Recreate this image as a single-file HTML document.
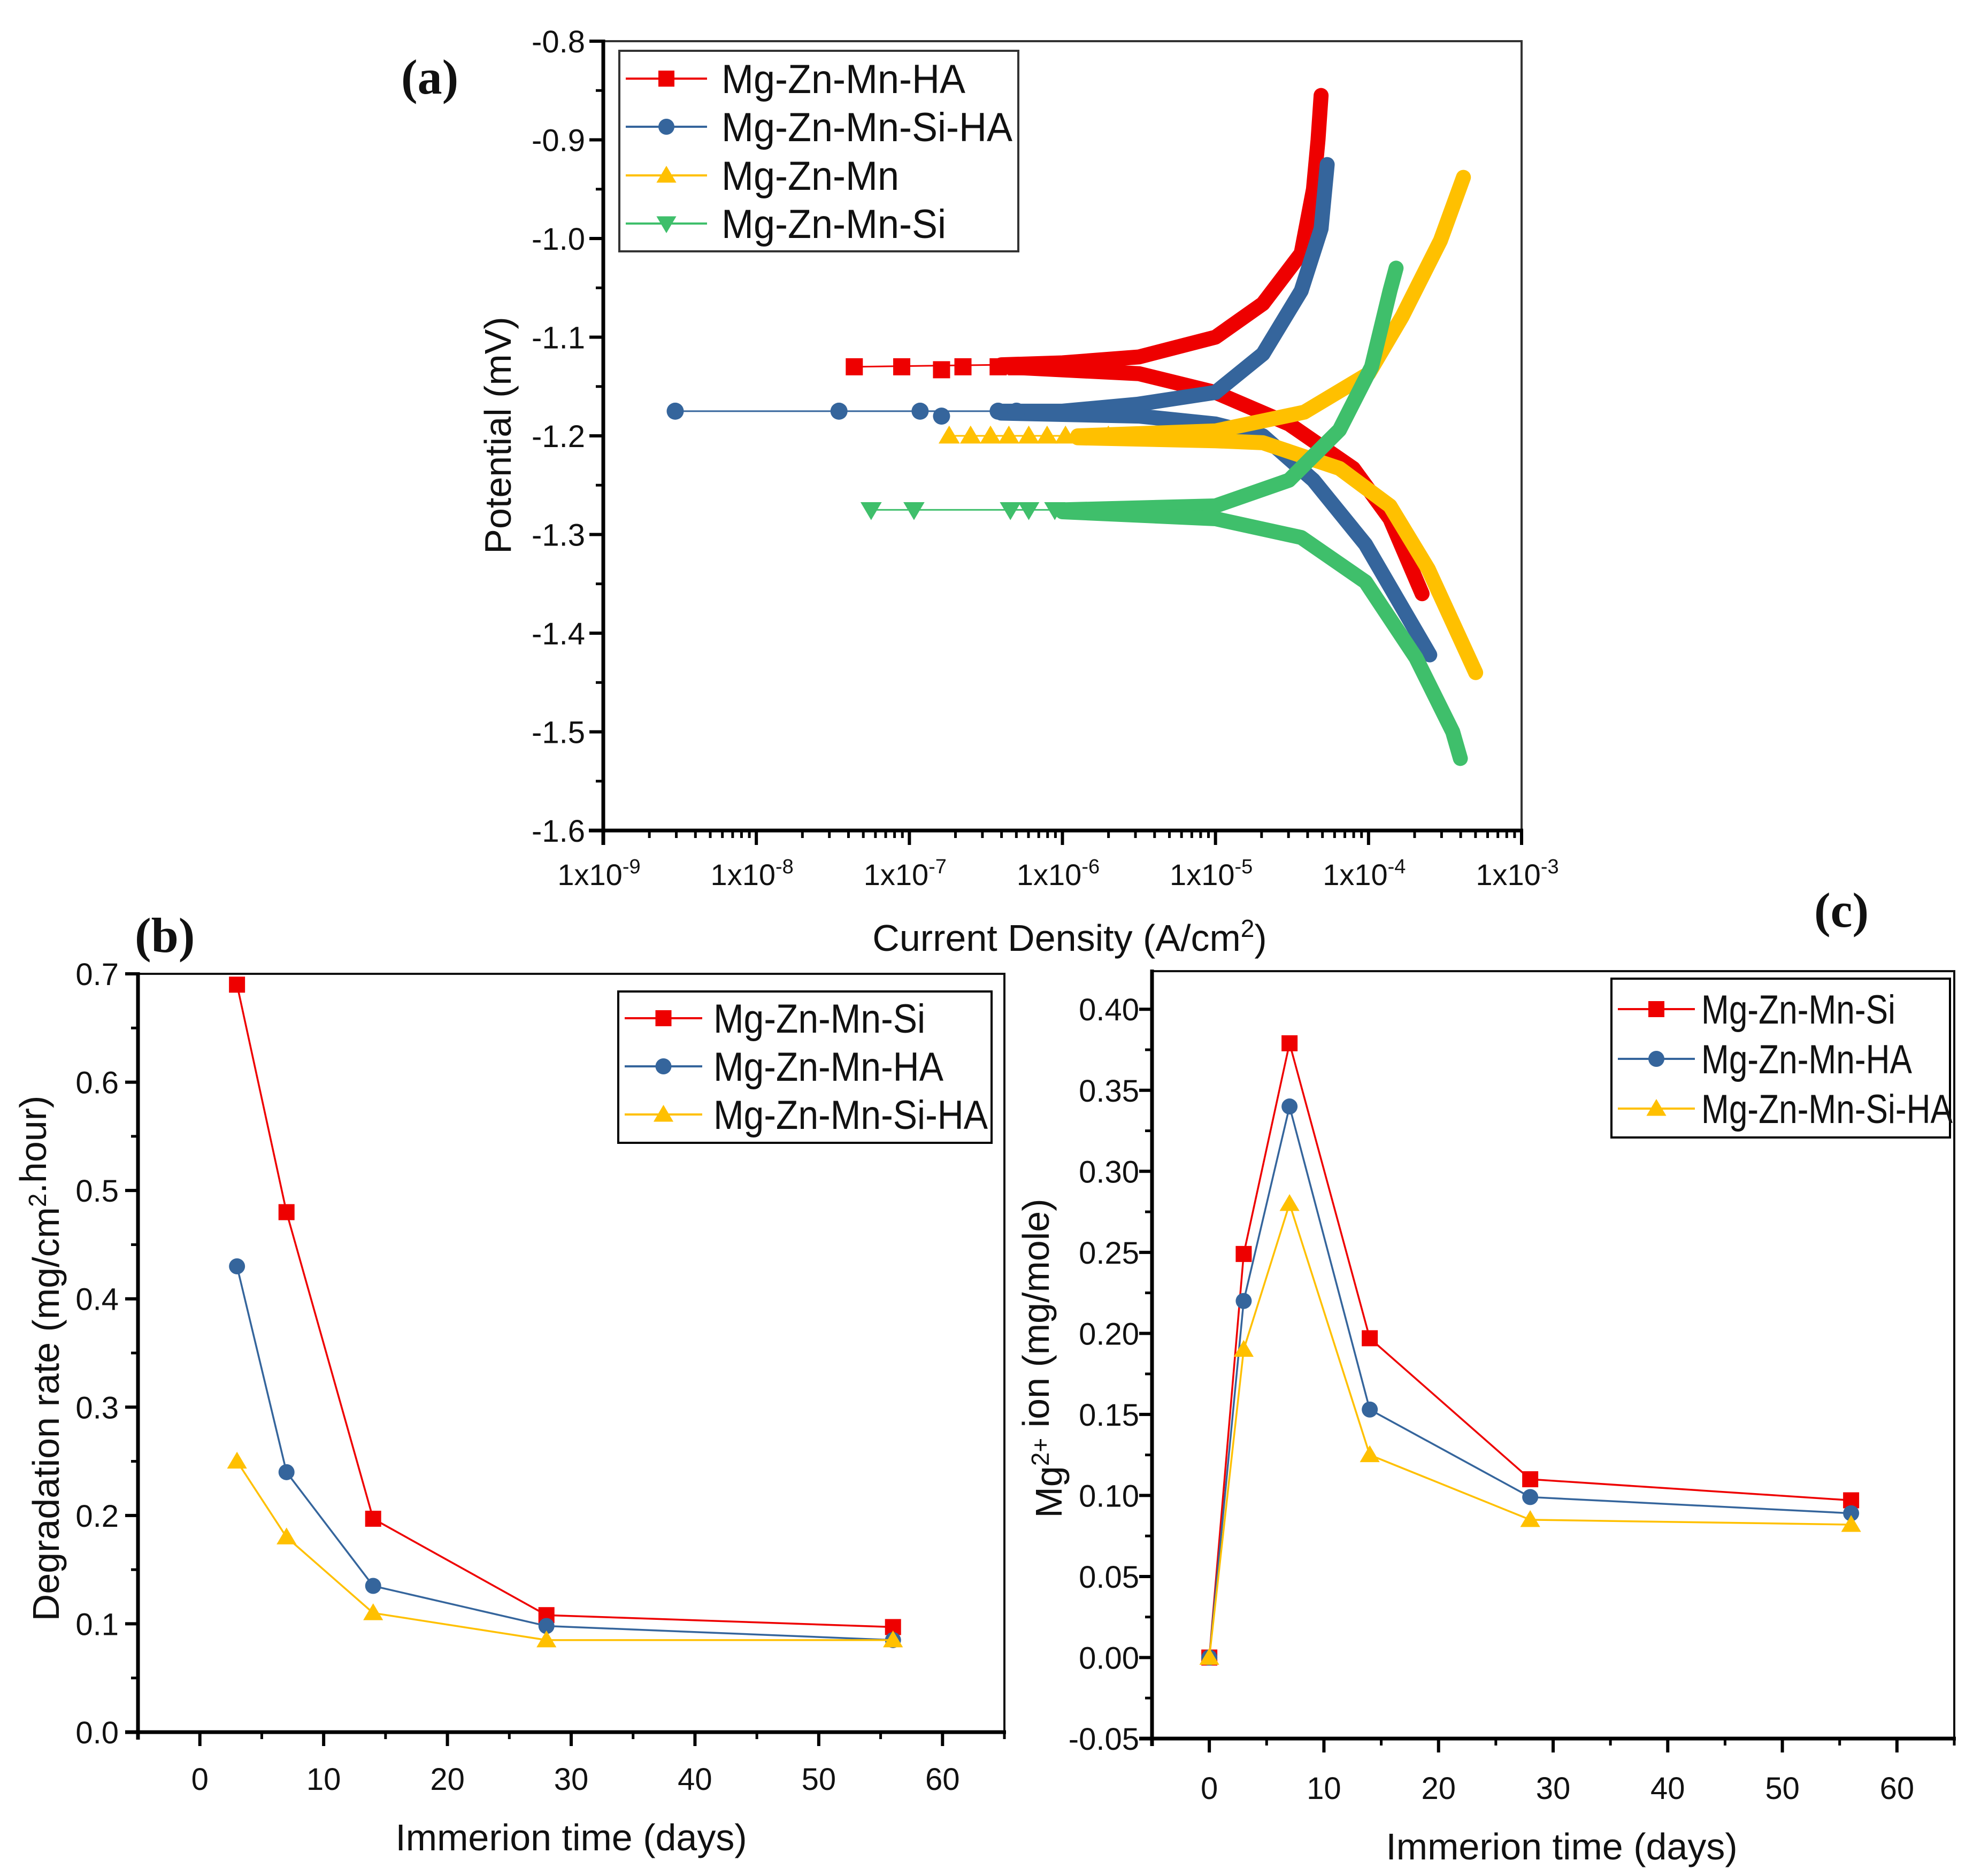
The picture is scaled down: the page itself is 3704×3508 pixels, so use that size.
<!DOCTYPE html>
<html><head><meta charset="utf-8"><style>
html,body{margin:0;padding:0;background:#fff}
svg{display:block}
text{font-family:"Liberation Sans",Arial,sans-serif;fill:#111}
</style></head><body>
<svg id="fig" xmlns="http://www.w3.org/2000/svg" width="3704" height="3508" viewBox="0 0 3704 3508">
<rect width="3704" height="3508" fill="#fff"/>
<g id="pa"></g>
<g id="pb"></g>
<g id="pc"></g>
</svg>
<script>
// ---------- Panel (a) data: log10 current density, potential ----------
const aNames = ["Mg-Zn-Mn-HA","Mg-Zn-Mn-Si-HA","Mg-Zn-Mn","Mg-Zn-Mn-Si"];
const aSparseLog = [[-7.36,-7.05,-6.79,-6.65,-6.42,-6.3],[-8.53,-7.46,-6.93,-6.79,-6.42,-6.3],[-6.74,-6.6,-6.47,-6.35,-6.22,-6.1,-5.98,-5.7],[-7.25,-6.97,-6.34,-6.22,-6.05]];
const aSparseE = [[-1.13,-1.13,-1.133,-1.13,-1.13,-1.13],[-1.175,-1.175,-1.175,-1.18,-1.175,-1.175],[-1.2,-1.2,-1.2,-1.2,-1.2,-1.2,-1.2,-1.2],[-1.275,-1.275,-1.275,-1.275,-1.275]];
const aAnoLog = [[-6.4,-6.0,-5.5,-5.0,-4.69,-4.44,-4.36,-4.33,-4.31],[-6.4,-6.0,-5.51,-5.0,-4.69,-4.44,-4.31,-4.27],[-5.9,-5.0,-4.42,-4.0,-3.78,-3.53,-3.38],[-6.0,-5.0,-4.52,-4.19,-3.98,-3.86,-3.82]];
const aAnoE = [[-1.128,-1.126,-1.12,-1.1,-1.066,-1.015,-0.95,-0.9,-0.855],[-1.175,-1.175,-1.168,-1.156,-1.117,-1.053,-0.99,-0.925],[-1.2,-1.195,-1.176,-1.137,-1.079,-1.002,-0.938],[-1.275,-1.271,-1.245,-1.194,-1.13,-1.053,-1.03]];
const aCatLog = [[-6.4,-5.5,-5.0,-4.52,-4.1,-3.86,-3.65],[-6.4,-5.5,-5.0,-4.69,-4.36,-4.02,-3.6],[-5.9,-5.0,-4.69,-4.19,-3.86,-3.61,-3.3],[-6.0,-5.0,-4.44,-4.02,-3.69,-3.45,-3.4]];
const aCatE = [[-1.13,-1.137,-1.156,-1.188,-1.233,-1.284,-1.36],[-1.177,-1.18,-1.188,-1.2,-1.245,-1.31,-1.422],[-1.202,-1.205,-1.207,-1.233,-1.271,-1.335,-1.44],[-1.277,-1.284,-1.303,-1.348,-1.425,-1.5,-1.527]];
const aYTicks = [-0.8,-0.9,-1.0,-1.1,-1.2,-1.3,-1.4,-1.5,-1.6];
const aYLabels = ["-0.8","-0.9","-1.0","-1.1","-1.2","-1.3","-1.4","-1.5","-1.6"];
const aXExp = [-9,-8,-7,-6,-5,-4,-3];
// ---------- Panel (b) data ----------
const bDays = [3,7,14,28,56];
const bSi = [0.69,0.48,0.197,0.108,0.097];
const bHA = [0.43,0.24,0.135,0.098,0.085];
const bSiHA = [0.25,0.18,0.11,0.085,0.085];
const bYTicks = [0,0.1,0.2,0.3,0.4,0.5,0.6,0.7];
const bYLabels = ["0.0","0.1","0.2","0.3","0.4","0.5","0.6","0.7"];
const bXTicks = [0,10,20,30,40,50,60];
// ---------- Panel (c) data ----------
const cDays = [0,3,7,14,28,56];
const cSi = [0,0.249,0.379,0.197,0.11,0.097];
const cHA = [0,0.22,0.34,0.153,0.099,0.089];
const cSiHA = [0,0.19,0.28,0.125,0.085,0.082];
const cYTicks = [-0.05,0,0.05,0.1,0.15,0.2,0.25,0.3,0.35,0.4];
const cYLabels = ["-0.05","0.00","0.05","0.10","0.15","0.20","0.25","0.30","0.35","0.40"];
const cXTicks = [0,10,20,30,40,50,60];

const RED="#ee0000", BLUE="#35659c", YEL="#ffc000", GRN="#3fbf6b";
const NS="http://www.w3.org/2000/svg";
function mk(parent,tag,attrs,txt){const e=document.createElementNS(NS,tag);for(const k in attrs)e.setAttribute(k,attrs[k]);if(txt!==undefined)e.textContent=txt;parent.appendChild(e);return e;}
function marker(g,shape,x,y,s,col){
  let e;
  if(shape==="sq"){e=mk(g,"rect",{x:x-s/2,y:y-s/2,width:s,height:s,fill:col});}
  else if(shape==="ci"){e=mk(g,"circle",{cx:x,cy:y,r:s/2,fill:col});}
  else if(shape==="up"){e=mk(g,"polygon",{points:`${x},${y-s*0.6} ${x-s*0.62},${y+s*0.45} ${x+s*0.62},${y+s*0.45}`,fill:col});}
  else {e=mk(g,"polygon",{points:`${x},${y+s*0.6} ${x-s*0.62},${y-s*0.45} ${x+s*0.62},${y-s*0.45}`,fill:col});}
  
  
  return e;
}
function fitLegend(texts,target){
  let mx=0;texts.forEach(t=>{mx=Math.max(mx,t.getComputedTextLength());});
  if(!mx)return;const f=target/mx;
  texts.forEach(t=>{const w=t.getComputedTextLength();t.setAttribute('textLength',(w*f).toFixed(1));t.setAttribute('lengthAdjust','spacingAndGlyphs');});
}

// ================= Panel A =================
(function(){
  const g=document.getElementById('pa');
  const L=1128,R=2845,T=77,B=1553;
  const X=v=>L+(v+9)/6*(R-L);
  const Y=v=>T+(-0.8-v)/0.8*(B-T);
  const cols=[RED,BLUE,YEL,GRN], shapes=["sq","ci","up","dn"];
  const frame=mk(g,"path",{d:`M${L},${T} H${R} V${B}`,fill:"none",stroke:"#333",'stroke-width':4});
  
  for(let i=0;i<4;i++){
    const sg=mk(g,"g",{});
    
    
    const sx=aSparseLog[i], se=aSparseE[i];
    mk(sg,"line",{x1:X(sx[0]),y1:Y(se[0]),x2:X(aAnoLog[i][0]),y2:Y(aAnoE[i][0]),stroke:cols[i],'stroke-width':3});
    const pa=aAnoLog[i].map((v,j)=>X(v)+","+Y(aAnoE[i][j])).join(" ");
    const pc=aCatLog[i].map((v,j)=>X(v)+","+Y(aCatE[i][j])).join(" ");
    mk(sg,"polyline",{points:pa,fill:"none",stroke:cols[i],'stroke-width':28,'stroke-linejoin':'round','stroke-linecap':'round'});
    mk(sg,"polyline",{points:pc,fill:"none",stroke:cols[i],'stroke-width':28,'stroke-linejoin':'round','stroke-linecap':'round'});
    for(let j=0;j<sx.length;j++) marker(sg,shapes[i],X(sx[j]),Y(se[j]),32,cols[i]);
  }
  mk(g,"line",{x1:L,y1:T-3,x2:L,y2:B+27,stroke:"#000",'stroke-width':7});
  mk(g,"line",{x1:L-27,y1:B,x2:R+3,y2:B,stroke:"#000",'stroke-width':7});
  aYTicks.forEach((v,i)=>{
    mk(g,"line",{x1:L-26,y1:Y(v),x2:L,y2:Y(v),stroke:"#000",'stroke-width':6});
    if(i<aYTicks.length-1) mk(g,"line",{x1:L-14,y1:Y(v-0.05),x2:L,y2:Y(v-0.05),stroke:"#000",'stroke-width':5});
    const t=mk(g,"text",{x:L-34,y:Y(v)+21,'font-size':58,'text-anchor':'end'},aYLabels[i]);
    
  });
  aXExp.forEach((e,i)=>{
    mk(g,"line",{x1:X(e),y1:B,x2:X(e),y2:B+27,stroke:"#000",'stroke-width':6});
    if(i<aXExp.length-1) for(let k=2;k<10;k++){const xx=X(e+Math.log10(k));mk(g,"line",{x1:xx,y1:B,x2:xx,y2:B+14,stroke:"#000",'stroke-width':5});}
    const t=mk(g,"text",{x:X(e)-8,y:1655,'font-size':56,'text-anchor':'middle'});
    
    t.appendChild(document.createTextNode("1x10"));
    mk(t,"tspan",{dy:-22,'font-size':38},String(e));
  });
  const yt=mk(g,"text",{x:0,y:0,'font-size':70,'text-anchor':'middle',transform:'translate(955,814) rotate(-90)'},"Potential (mV)");
  
  const xt=mk(g,"text",{x:2000,y:1778,'font-size':70,'text-anchor':'middle'});
  
  xt.appendChild(document.createTextNode("Current Density (A/cm"));
  mk(xt,"tspan",{dy:-26,'font-size':46},"2");
  mk(xt,"tspan",{dy:26},")");
  const pl=mk(g,"text",{x:750,y:175,'font-size':92,'font-weight':'bold',style:'font-family:"Liberation Serif",serif'},"(a)");
  
  const lg=mk(g,"g",{});
  
  mk(lg,"rect",{x:1158,y:95,width:746,height:375,fill:"#fff",stroke:"#333",'stroke-width':4});
  const ly=[147,237,328,418];
  const texts=[];
  for(let i=0;i<4;i++){
    mk(lg,"line",{x1:1170,y1:ly[i],x2:1322,y2:ly[i],stroke:cols[i],'stroke-width':4});
    marker(lg,shapes[i],1246,ly[i],30,cols[i]);
    const t=mk(lg,"text",{x:1349,y:ly[i]+27,'font-size':76},aNames[i]);
    
    texts.push(t);
  }
  fitLegend(texts,544);
})();

// ============ Line panels B and C ============
function linePanel(gid,box,xr,yr,yTicks,yLabels,yMinorStep,xTicks,days,series,legend,labels){
  const g=document.getElementById(gid);
  const {L,R,T,B}=box;
  const X=v=>L+(v-xr[0])/(xr[1]-xr[0])*(R-L);
  const Y=v=>B-(v-yr[0])/(yr[1]-yr[0])*(B-T);
  const fr=mk(g,"path",{d:`M${L},${T} H${R} V${B}`,fill:"none",stroke:"#111",'stroke-width':4});
  
  series.forEach(s=>{
    const sg=mk(g,"g",{});
    
    
    mk(sg,"polyline",{points:days.map((d,j)=>X(d)+","+Y(s.vals[j])).join(" "),fill:"none",stroke:s.col,'stroke-width':3.5});
    days.forEach((d,j)=>marker(sg,s.shape,X(d),Y(s.vals[j]),30,s.col));
  });
  mk(g,"line",{x1:L,y1:T-3,x2:L,y2:B+14,stroke:"#000",'stroke-width':7});
  mk(g,"line",{x1:L-24,y1:B,x2:R+3,y2:B,stroke:"#000",'stroke-width':7});
  yTicks.forEach((v,i)=>{
    mk(g,"line",{x1:L-24,y1:Y(v),x2:L,y2:Y(v),stroke:"#000",'stroke-width':6});
    if(i<yTicks.length-1) mk(g,"line",{x1:L-13,y1:Y(v+yMinorStep),x2:L,y2:Y(v+yMinorStep),stroke:"#000",'stroke-width':5});
    const t=mk(g,"text",{x:labels.yLabX,y:Y(v)+21,'font-size':58,'text-anchor':'end'},yLabels[i]);
    
  });
  xTicks.forEach((v,i)=>{
    mk(g,"line",{x1:X(v),y1:B,x2:X(v),y2:B+26,stroke:"#000",'stroke-width':6});
    mk(g,"line",{x1:X(v+5),y1:B,x2:X(v+5),y2:B+13,stroke:"#000",'stroke-width':5});
    const t=mk(g,"text",{x:X(v),y:labels.xLabY,'font-size':58,'text-anchor':'middle'},String(v));
    
  });
  mk(g,"line",{x1:X(xr[0]),y1:B,x2:X(xr[0]),y2:B+13,stroke:"#000",'stroke-width':5});
  const xt=mk(g,"text",{x:labels.xtX,y:labels.xtY,'font-size':70,'text-anchor':'middle'},"Immerion time (days)");
  
  const yt=mk(g,"text",{x:0,y:0,'font-size':70,'text-anchor':'middle',transform:`translate(${labels.ytX},${labels.ytY}) rotate(-90)`});
  
  labels.ytParts.forEach(p=>{ if(p.sup){mk(yt,"tspan",{dy:-24,'font-size':46},p.t);mk(yt,"tspan",{dy:24},"");} else yt.appendChild(document.createTextNode(p.t)); });
  const pl=mk(g,"text",{x:labels.plX,y:labels.plY,'font-size':92,'font-weight':'bold',style:'font-family:"Liberation Serif",serif'},labels.pl);
  
  const lg=mk(g,"g",{});
  
  mk(lg,"rect",{x:legend.x,y:legend.y,width:legend.w,height:legend.h,fill:"#fff",stroke:"#000",'stroke-width':4});
  const texts=[];
  series.forEach((s,i)=>{
    const y=legend.ys[i];
    mk(lg,"line",{x1:legend.lx1,y1:y,x2:legend.lx2,y2:y,stroke:s.col,'stroke-width':4});
    marker(lg,s.shape,(legend.lx1+legend.lx2)/2,y,30,s.col);
    const t=mk(lg,"text",{x:legend.tx,y:y+27,'font-size':76},s.name);
    
    texts.push(t);
  });
  fitLegend(texts,legend.tw);
}
linePanel('pb',{L:258,R:1878,T:1821,B:3239},[-5,65],[0,0.7],bYTicks,bYLabels,0.05,bXTicks,bDays,
 [{name:"Mg-Zn-Mn-Si",vals:bSi,col:RED,shape:"sq"},{name:"Mg-Zn-Mn-HA",vals:bHA,col:BLUE,shape:"ci"},{name:"Mg-Zn-Mn-Si-HA",vals:bSiHA,col:YEL,shape:"up"}],
 {x:1156,y:1854,w:698,h:283,ys:[1904,1994,2084],lx1:1168,lx2:1313,tx:1334,tw:513},
 {yLabX:222,xLabY:3347,xtX:1068,xtY:3460,ytX:110,ytY:2540,ytParts:[{t:"Degradation rate (mg/cm"},{t:"2",sup:true},{t:".hour)"}],plX:252,plY:1780,pl:"(b)"});
linePanel('pc',{L:2154,R:3654,T:1816,B:3251},[-5,65],[-0.05,0.4235],cYTicks,cYLabels,0.025,cXTicks,cDays,
 [{name:"Mg-Zn-Mn-Si",vals:cSi,col:RED,shape:"sq"},{name:"Mg-Zn-Mn-HA",vals:cHA,col:BLUE,shape:"ci"},{name:"Mg-Zn-Mn-Si-HA",vals:cSiHA,col:YEL,shape:"up"}],
 {x:3013,y:1830,w:633,h:297,ys:[1887,1980,2073],lx1:3025,lx2:3169,tx:3181,tw:470},
 {yLabX:2130,xLabY:3364,xtX:2920,xtY:3477,ytX:1985,ytY:2540,ytParts:[{t:"Mg"},{t:"2+",sup:true},{t:" ion (mg/mole)"}],plX:3392,plY:1733,pl:"(c)"});
</script>
</body></html>
